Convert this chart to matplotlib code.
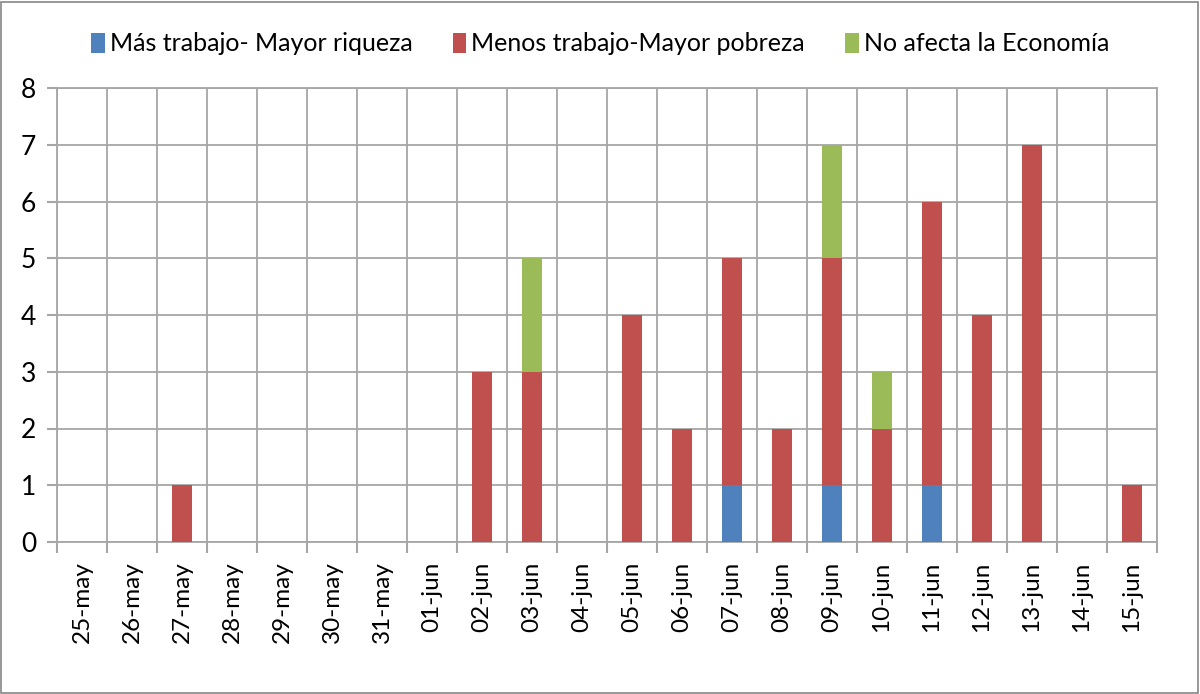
import numpy as np
import matplotlib.pyplot as plt
from matplotlib.patches import Rectangle

plt.rcParams['font.family'] = ['Lato', 'DejaVu Sans']

fechas = ['25-may', '26-may', '27-may', '28-may', '29-may', '30-may', '31-may',
          '01-jun', '02-jun', '03-jun', '04-jun', '05-jun', '06-jun', '07-jun',
          '08-jun', '09-jun', '10-jun', '11-jun', '12-jun', '13-jun', '14-jun',
          '15-jun']
mas_trabajo = [0, 0, 0, 0, 0, 0, 0, 0, 0, 0, 0, 0, 0, 1, 0, 1, 0, 1, 0, 0, 0, 0]
menos_trabajo = [0, 0, 1, 0, 0, 0, 0, 0, 3, 3, 0, 4, 2, 4, 2, 4, 2, 5, 4, 7, 0, 1]
no_afecta = [0, 0, 0, 0, 0, 0, 0, 0, 0, 2, 0, 0, 0, 0, 0, 2, 1, 0, 0, 0, 0, 0]

series = [
    ('Más trabajo- Mayor riqueza', mas_trabajo, '#4F81BD'),
    ('Menos trabajo-Mayor pobreza', menos_trabajo, '#C0504D'),
    ('No afecta la Economía', no_afecta, '#9BBB59'),
]

grid_c = '#A6A6A6'

fig = plt.figure(figsize=(12, 6.94), dpi=100)
ax = fig.add_axes([57 / 1200, 152 / 694, 1100 / 1200, 454 / 694])

x = np.arange(len(fechas))
bottom = np.zeros(len(fechas))
for label, vals, color in series:
    vals = np.array(vals, dtype=float)
    ax.bar(x, vals, width=0.4, bottom=bottom, color=color, label=label, zorder=3)
    bottom += vals

ax.set_xlim(-0.5, len(fechas) - 0.5)
ax.set_ylim(0, 8)
ax.set_yticks(range(0, 9))
ax.set_xticks(x)
ax.set_xticklabels(fechas, rotation=90, fontsize=17.5)
ax.set_xticks(np.arange(-0.5, len(fechas)), minor=True)
ax.tick_params(axis='x', which='major', length=0, pad=14)
ax.tick_params(axis='x', which='minor', length=8, color=grid_c, width=1.5)
ax.tick_params(axis='y', length=7, color=grid_c, width=1.5, labelsize=19, pad=8)

ax.grid(True, axis='y', which='major', color=grid_c, linewidth=1.3, zorder=0)
ax.grid(True, axis='x', which='minor', color=grid_c, linewidth=1.3, zorder=0)
ax.grid(False, axis='x', which='major')
for s in ax.spines.values():
    s.set_color(grid_c)
    s.set_linewidth(1.3)

fig.legend(loc='center', bbox_to_anchor=(0.5, 0.937), ncol=3, frameon=False,
           fontsize=18, handlelength=0.55, handleheight=0.85, handletextpad=0.2,
           columnspacing=1.6)

fig.patches.append(Rectangle((0.001, 0.002), 0.997, 0.995, transform=fig.transFigure,
                             fill=False, edgecolor='#868686', linewidth=1.2))

fig.savefig('out.png', dpi=100)
